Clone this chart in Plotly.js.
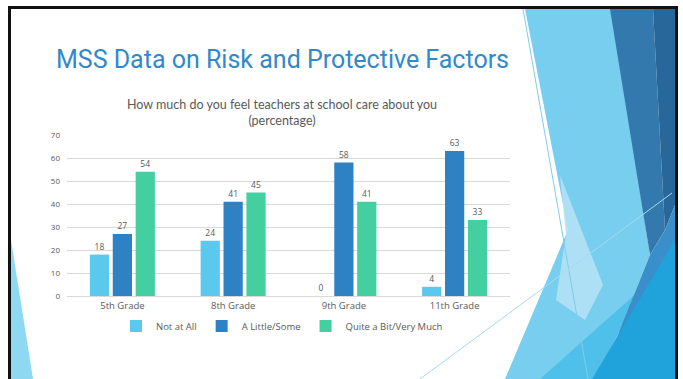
<!DOCTYPE html>
<html>
<head>
<meta charset="utf-8">
<script src="https://cdn.plot.ly/plotly-3.0.1.min.js"></script>
<style>
  html, body { margin: 0; padding: 0; background: #ffffff; }
  #chart { width: 683px; height: 379px; }
</style>
</head>
<body>
<div id="chart"></div>
<script>
// Survey question: How much do you feel teachers at school care about you (percentage)
const grades = ["5th Grade", "8th Grade", "9th Grade", "11th Grade"];
const notAtAll = [18, 24, 0, 4];
const aLittleSome = [27, 41, 58, 63];
const quiteABitVeryMuch = [54, 45, 41, 33];
const seriesNames = ["Not at All", "A Little/Some", "Quite a Bit/Very Much"];
const seriesColors = ["#5BC8EE", "#2E81C3", "#43CFA0"];

const W = 683, H = 379;
const M = { l: 67, r: 173, t: 135, b: 83 };
const plotW = W - M.l - M.r;
const plotH = H - M.t - M.b;

// pixel position on the page -> paper fraction
const fx = x => (x - M.l) / plotW;
const fy = y => (H - M.b - y) / plotH;

function poly(points, fill, opacity) {
  const d = points.map((p, i) => (i ? "L" : "M") + fx(p[0]).toFixed(4) + "," + fy(p[1]).toFixed(4)).join(" ") + " Z";
  return { type: "path", xref: "paper", yref: "paper", path: d, fillcolor: fill,
           opacity: opacity == null ? 1 : opacity, line: { width: 0 }, layer: "below" };
}
function seg(a, b, color, width) {
  return { type: "line", xref: "paper", yref: "paper", x0: fx(a[0]), y0: fy(a[1]), x1: fx(b[0]), y1: fy(b[1]),
           line: { color: color, width: width }, layer: "below" };
}

// slide decoration: facets on the right edge, sliver on the left edge, frame
const decor = [
  poly([[525, 9], [612, 9], [650, 255], [600, 379], [505, 379], [568, 230]], "#78CEEE"),
  poly([[560, 175], [603, 285], [585, 320], [556, 300], [566, 235]], "#B3E2F5", 0.9),
  poly([[640, 290], [595, 379], [540, 379]], "#4FC0EA"),
  poly([[610, 9], [653, 9], [665, 230], [650, 255]], "#3479AD"),
  poly([[653, 9], [675, 9], [675, 205], [665, 230]], "#28679A"),
  poly([[650, 255], [665, 230], [675, 205], [675, 300], [640, 379], [600, 379]], "#3A8FCB"),
  poly([[675, 240], [675, 379], [592, 379]], "#20A3DB"),
  poly([[11, 240], [11, 379], [33, 379]], "#8ED8F2"),
  seg([523, 9], [588, 379], "#7FCCEB", 1),
  seg([420, 379], [672, 193], "#A3DBF1", 1),
  { type: "rect", xref: "paper", yref: "paper", x0: fx(9.5), x1: fx(676.5), y0: fy(400), y1: fy(7.5),
    line: { color: "#111111", width: 3 }, fillcolor: "rgba(0,0,0,0)", layer: "above" }
];

const values = [notAtAll, aLittleSome, quiteABitVeryMuch];
const traces = values.map((v, i) => ({
  type: "bar",
  name: seriesNames[i],
  x: grades,
  y: v,
  marker: { color: seriesColors[i], line: { width: 0 } },
  text: v.map(String),
  textposition: "outside",
  textfont: { family: "Open Sans", size: 8.5, color: "#595959" },
  cliponaxis: false,
  hoverinfo: "skip"
}));

const layout = {
  width: W, height: H,
  margin: M,
  paper_bgcolor: "#ffffff",
  plot_bgcolor: "rgba(0,0,0,0)",
  barmode: "group",
  bargap: 0.38,
  bargroupgap: 0.16,
  showlegend: true,
  title: {
    text: "How much do you feel teachers at school care about you<br>(percentage)",
    font: { family: "Lato", size: 12.5, color: "#595959" },
    xref: "paper", x: fx(282), xanchor: "center",
    yref: "container", y: 1 - 109 / H, yanchor: "middle"
  },
  xaxis: {
    type: "category",
    showgrid: false, showline: false, zeroline: false, ticks: "",
    tickfont: { family: "Open Sans", size: 9.5, color: "#595959" },
    ticklabelstandoff: 2
  },
  yaxis: {
    range: [0, 70], dtick: 10,
    showgrid: true, gridcolor: "#D9D9D9", gridwidth: 1,
    zeroline: true, zerolinecolor: "#D9D9D9", zerolinewidth: 1,
    showline: false, ticks: "",
    tickfont: { family: "Open Sans", size: 8, color: "#595959" },
    ticklabelstandoff: 6
  },
  legend: {
    orientation: "h",
    x: fx(282), xanchor: "center",
    y: fy(326), yanchor: "middle",
    font: { family: "Open Sans", size: 9.5, color: "#595959" },
    itemwidth: 30,
    bgcolor: "rgba(0,0,0,0)"
  },
  annotations: [{
    text: "MSS Data on Risk and Protective Factors",
    xref: "paper", yref: "paper", x: fx(282), y: fy(60),
    xanchor: "center", yanchor: "middle", showarrow: false,
    font: { family: "Roboto", size: 25, color: "#2F89CB" }
  }],
  shapes: decor
};

Plotly.newPlot("chart", traces, layout, { displayModeBar: false, staticPlot: true });
</script>
</body>
</html>
